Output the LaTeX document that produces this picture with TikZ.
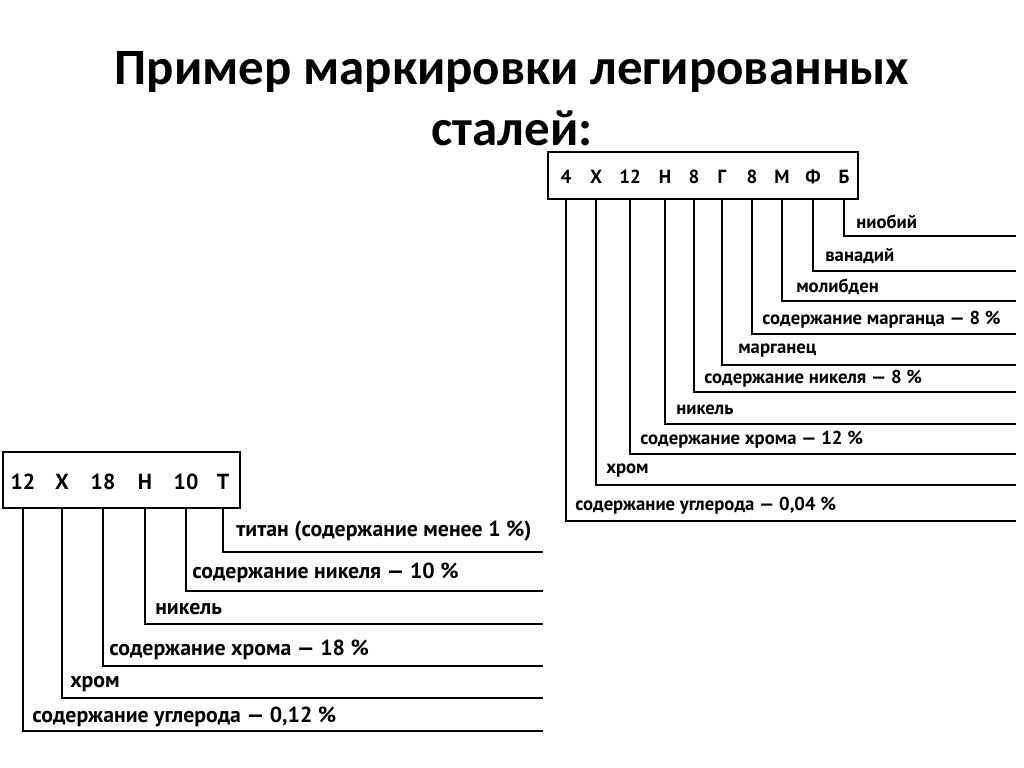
\documentclass[tikz,border=0pt]{standalone}
\usepackage{fontspec}
\setmainfont{Carlito}
\newfontfamily\lblfont{PT Sans}
\usetikzlibrary{positioning}

\tikzset{
  conn/.style={line width=1.3pt,line cap=rect},
  markbox/.style={line width=1.3pt},
  rlbl/.style={anchor=west,inner sep=0pt,font=\lblfont\bfseries\fontsize{13.3}{15}\selectfont},
  llbl/.style={anchor=west,inner sep=0pt,font=\lblfont\bfseries\fontsize{15.5}{18}\selectfont},
  rsym/.style={inner sep=0pt,font=\lblfont\bfseries\fontsize{13.5}{15}\selectfont},
  lsym/.style={inner sep=0pt,font=\lblfont\bfseries\fontsize{15.5}{18}\selectfont}
}

\begin{document}
\begin{tikzpicture}[x=0.25mm,y=-0.25mm]
  \useasboundingbox (0,0) rectangle (1024,767);
  % title
  \node[align=center,font=\bfseries\fontsize{36.2}{43.5}\selectfont] (title) at (512,99)
  {Пример маркировки легированных\\сталей:};

  % right: 4X12H8Г8MФБ
  \draw[markbox] (548,152) rectangle (858,199);
  \coordinate (rbot) at (0,199);
  \node[rsym] (r4)  at (566,177) {4};
  \node[rsym] (rX)  at (596,177) {Х};
  \node[rsym] (r12) at (630,177) {12};
  \node[rsym] (rH)  at (665,177) {Н};
  \node[rsym] (r8a) at (694,177) {8};
  \node[rsym] (rG)  at (722,177) {Г};
  \node[rsym] (r8b) at (752,177) {8};
  \node[rsym] (rM)  at (782,177) {М};
  \node[rsym] (rF)  at (813,177) {Ф};
  \node[rsym] (rB)  at (844,177) {Б};

  \coordinate (reB)  at (1015,236);
  \coordinate (reF)  at (1015,271);
  \coordinate (reM)  at (1015,301);
  \coordinate (re8b) at (1015,334);
  \coordinate (reG)  at (1015,365);
  \coordinate (re8a) at (1015,392);
  \coordinate (reH)  at (1015,424);
  \coordinate (re12) at (1015,454);
  \coordinate (reX)  at (1015,485);
  \coordinate (re4)  at (1015,521);

  \draw[conn] (rB |- rbot)  |- (reB);
  \draw[conn] (rF |- rbot)  |- (reF);
  \draw[conn] (rM |- rbot)  |- (reM);
  \draw[conn] (r8b |- rbot) |- (re8b);
  \draw[conn] (rG |- rbot)  |- (reG);
  \draw[conn] (r8a |- rbot) |- (re8a);
  \draw[conn] (rH |- rbot)  |- (reH);
  \draw[conn] (r12 |- rbot) |- (re12);
  \draw[conn] (rX |- rbot)  |- (reX);
  \draw[conn] (r4 |- rbot)  |- (re4);

  \node[rlbl] (lbB)  at (856,222) {ниобий};
  \node[rlbl] (lbF)  at (825,256) {ванадий};
  \node[rlbl] (lbM)  at (796,287) {молибден};
  \node[rlbl] (lb8b) at (762,320) {содержание марганца — 8 \%};
  \node[rlbl] (lbG)  at (738,351) {марганец};
  \node[rlbl] (lb8a) at (704,379) {содержание никеля — 8 \%};
  \node[rlbl] (lbH)  at (676,410) {никель};
  \node[rlbl] (lb12) at (640,440) {содержание хрома — 12 \%};
  \node[rlbl] (lbX)  at (606,471) {хром};
  \node[rlbl] (lb4)  at (575,506) {содержание углерода — 0,04 \%};

  % left: 12X18H10T
  \draw[markbox] (3,452) rectangle (240,508);
  \coordinate (lbot) at (0,508);
  \node[lsym] (l12) at (23,482)  {12};
  \node[lsym] (lX)  at (62,482)  {Х};
  \node[lsym] (l18) at (103,482) {18};
  \node[lsym] (lH)  at (145,482) {Н};
  \node[lsym] (l10) at (186,482) {10};
  \node[lsym] (lT)  at (223,482) {Т};

  \coordinate (leT)  at (542,552);
  \coordinate (le10) at (542,591);
  \coordinate (leH)  at (542,624);
  \coordinate (le18) at (542,666);
  \coordinate (leX)  at (542,698);
  \coordinate (le12) at (542,731);

  \draw[conn] (lT |- lbot)  |- (leT);
  \draw[conn] (l10 |- lbot) |- (le10);
  \draw[conn] (lH |- lbot)  |- (leH);
  \draw[conn] (l18 |- lbot) |- (le18);
  \draw[conn] (lX |- lbot)  |- (leX);
  \draw[conn] (l12 |- lbot) |- (le12);

  \node[llbl] (tT)  at (236,531) {титан (содержание менее 1 \%)};
  \node[llbl] (t10) at (192,573) {содержание никеля — 10 \%};
  \node[llbl] (tH)  at (155,609) {никель};
  \node[llbl] (t18) at (109,650) {содержание хрома — 18 \%};
  \node[llbl] (tX)  at (70,684)  {хром};
  \node[llbl] (t12) at (32,717)  {содержание углерода — 0,12 \%};
\end{tikzpicture}
\end{document}
